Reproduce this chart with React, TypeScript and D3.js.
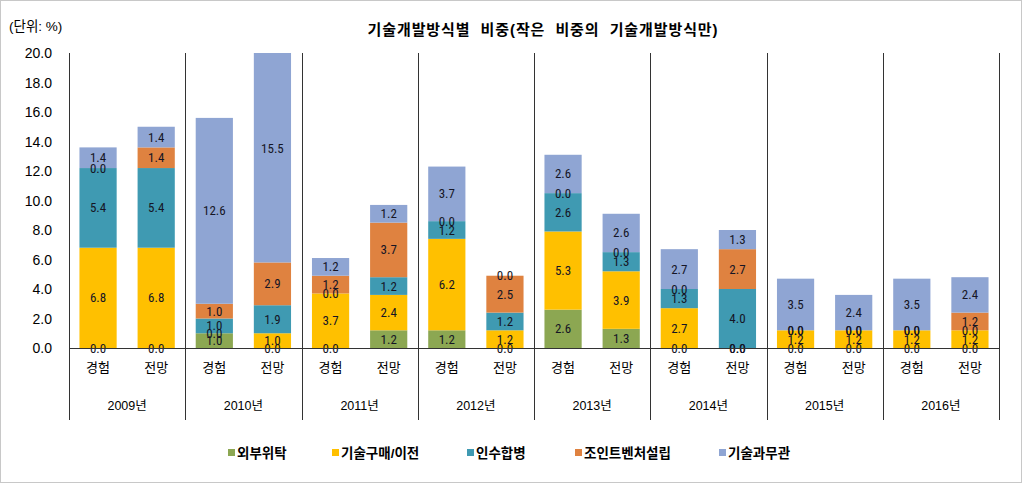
import React from "react";
import * as d3 from "d3";

const years = ["2009년", "2010년", "2011년", "2012년", "2013년", "2014년", "2015년", "2016년"];
const kinds = ["경험", "전망"];
const seriesNames = ["외부위탁", "기술구매/이전", "인수합병", "조인트벤처설립", "기술과무관"];
const seriesColors = ["#8CA752", "#FFC000", "#3F9AB2", "#DF8240", "#8FA5D3"];

// values per bar (year x kind), in series order
const outsourcing = [0.0, 0.0, 1.0, 0.0, 0.0, 1.2, 1.2, 0.0, 2.6, 1.3, 0.0, 0.0, 0.0, 0.0, 0.0, 0.0];
const techPurchase = [6.8, 6.8, 0.0, 1.0, 3.7, 2.4, 6.2, 1.2, 5.3, 3.9, 2.7, 0.0, 1.2, 1.2, 1.2, 1.2];
const mergers = [5.4, 5.4, 1.0, 1.9, 0.0, 1.2, 1.2, 1.2, 2.6, 1.3, 1.3, 4.0, 0.0, 0.0, 0.0, 0.0];
const jointVenture = [0.0, 1.4, 1.0, 2.9, 1.2, 3.7, 0.0, 2.5, 0.0, 0.0, 0.0, 2.7, 0.0, 0.0, 0.0, 1.2];
const unrelated = [1.4, 1.4, 12.6, 15.5, 1.2, 1.2, 3.7, 0.0, 2.6, 2.6, 2.7, 1.3, 3.5, 2.4, 3.5, 2.4];
const yTicks = [0, 2, 4, 6, 8, 10, 12, 14, 16, 18, 20];

const title = "기술개발방식별  비중(작은  비중의  기술개발방식만)";
const unitLabel = "(단위: %)";

const W = 1024;
const H = 484;
const plotLeft = 69;
const plotRight = 999;
const plotTop = 53;
const plotBottom = 348;
const sepBottom = 420;

const numFont = "'Liberation Sans', Arial, sans-serif";
const narrowFont = "'Liberation Sans Narrow', 'Arial Narrow', 'Roboto Condensed', 'Liberation Sans', sans-serif";
const krFont = "'Liberation Sans', 'Noto Sans CJK KR', sans-serif";

export default function App() {
  const allSeries = [outsourcing, techPurchase, mergers, jointVenture, unrelated];
  const bars = years.flatMap((y, yi) =>
    kinds.map((k, ki) => {
      const idx = yi * 2 + ki;
      return { year: y, kind: k, vals: allSeries.map((s) => s[idx]) };
    })
  );

  const x0 = d3.scaleBand<string>().domain(years).range([plotLeft, plotRight]).padding(0);
  const x1 = d3
    .scaleBand<string>()
    .domain(kinds)
    .range([0, x0.bandwidth()])
    .paddingInner(0.36)
    .paddingOuter(0.18);
  const y = d3.scaleLinear().domain([0, 20]).range([plotBottom, plotTop]);

  const stack = d3
    .stack<any>()
    .keys(seriesNames.map((_, i) => String(i)))
    .value((d: any, key: string) => d.vals[+key]);
  const stacked = stack(bars);

  const legendX = [228, 332, 467, 575, 719];

  return (
    <svg
      width={W}
      height={H}
      style={{ position: "absolute", left: 0, top: 0, background: "#fff" }}
    >
      <rect x={0.5} y={0.5} width={1021} height={482} fill="#fff" stroke="#c8c8c8" strokeWidth={1} />
      <text x={9} y={31} fontFamily={krFont} fontSize={13.5} fill="#000">
        {unitLabel}
      </text>
      <text
        x={543}
        y={35}
        textAnchor="middle"
        fontFamily={krFont}
        fontSize={15}
        fontWeight="bold"
        letterSpacing={0.9}
        fill="#000"
        style={{ whiteSpace: "pre" }}
      >
        {title}
      </text>

      {/* y tick labels */}
      {yTicks.map((t) => (
        <text
          key={t}
          x={52}
          y={y(t) + 5}
          textAnchor="end"
          fontFamily={numFont}
          fontSize={14}
          fill="#000"
        >
          {t.toFixed(1)}
        </text>
      ))}

      {/* bars */}
      <defs>
        <clipPath id="plotclip">
          <rect x={plotLeft} y={plotTop} width={plotRight - plotLeft} height={plotBottom - plotTop} />
        </clipPath>
      </defs>
      <g clipPath="url(#plotclip)">
        {stacked.map((layer, si) =>
          layer.map((seg, bi) => {
            const b = bars[bi];
            const bx = (x0(b.year) as number) + (x1(b.kind) as number);
            return (
              <rect
                key={si + "-" + bi}
                x={bx}
                y={y(seg[1])}
                width={x1.bandwidth()}
                height={Math.max(0, y(seg[0]) - y(seg[1]))}
                fill={seriesColors[si]}
              />
            );
          })
        )}
      </g>
      {stacked.map((layer, si) =>
        layer.map((seg, bi) => {
          const b = bars[bi];
          const cx = (x0(b.year) as number) + (x1(b.kind) as number) + x1.bandwidth() / 2;
          const cy = y((seg[0] + seg[1]) / 2);
          return (
            <text
              key={"l" + si + "-" + bi}
              x={cx}
              y={cy + 4.5}
              textAnchor="middle"
              fontFamily={narrowFont}
              fontSize={13}
              fill="#151525"
            >
              {b.vals[si].toFixed(1)}
            </text>
          );
        })
      )}

      {/* axes and separators */}
      <line x1={plotLeft} x2={plotRight} y1={plotBottom + 0.5} y2={plotBottom + 0.5} stroke="#333" strokeWidth={1} />
      {[...years.map((yr) => x0(yr) as number), plotRight].map((sx, i) => (
        <line
          key={"s" + i}
          x1={Math.round(sx) + 0.5}
          x2={Math.round(sx) + 0.5}
          y1={plotTop}
          y2={sepBottom}
          stroke="#333"
          strokeWidth={1}
        />
      ))}

      {/* category labels */}
      {bars.map((b, bi) => (
        <text
          key={"c" + bi}
          x={(x0(b.year) as number) + (x1(b.kind) as number) + x1.bandwidth() / 2}
          y={372}
          textAnchor="middle"
          fontFamily={krFont}
          fontSize={13}
          fill="#000"
        >
          {b.kind}
        </text>
      ))}
      {years.map((yr) => (
        <text
          key={"y" + yr}
          x={(x0(yr) as number) + x0.bandwidth() / 2}
          y={410}
          textAnchor="middle"
          fontFamily={krFont}
          fontSize={12.5}
          fill="#000"
        >
          {yr}
        </text>
      ))}

      {/* legend */}
      {seriesNames.map((n, i) => (
        <g key={"lg" + i}>
          <rect x={legendX[i]} y={449} width={7} height={7} fill={seriesColors[i]} />
          <text
            x={legendX[i] + 9}
            y={458}
            fontFamily={krFont}
            fontSize={13.5}
            fontWeight="bold"
            fill="#000"
          >
            {n}
          </text>
        </g>
      ))}
    </svg>
  );
}
